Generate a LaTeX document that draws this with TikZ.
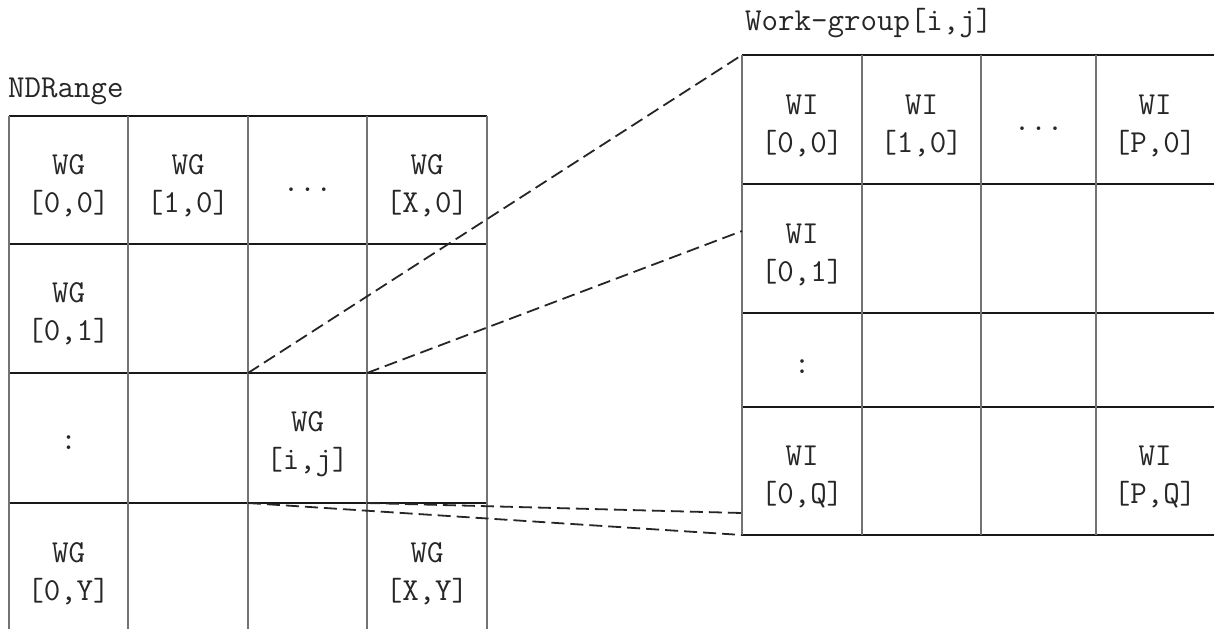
\documentclass[tikz,border=0pt]{standalone}
\newcommand\cellpair[2]{#1\\{#2}}
\begin{document}
\begin{tikzpicture}[x=1pt,y=-1pt,
  hline/.style={line width=1.4pt,black!90},
  vline/.style={line width=1.2pt,black!55},
  link/.style={line width=1.8pt,black!85,dash pattern=on 13pt off 6pt},
  cell/.style={align=center,font=\ttfamily\fontsize{32}{38}\selectfont,text=black!85,inner sep=0pt},
  title/.style={anchor=base west,font=\ttfamily\fontsize{32}{38}\selectfont,text=black!85,inner sep=0pt}]
\useasboundingbox (0,0) rectangle (1214,629);

% ---- NDRange grid (bottom row runs off the page) ----
\foreach \y in {116,244,373,503} \draw[hline] (9,\y) -- (487,\y);
\foreach \x in {9,128,248,367,487} \draw[vline] (\x,116) -- (\x,629);

\node[title] (ndr) at (8,97) {NDRange};

\node[cell] (wg00) at (68.5,186) {\cellpair{WG}{[0,0]}};
\node[cell] (wg10) at (188,186)  {\cellpair{WG}{[1,0]}};
\node[cell] (wgdots) at (307.5,190) {...};
\node[cell] (wgX0) at (427,186)  {\cellpair{WG}{[X,0]}};
\node[cell] (wg01) at (68.5,314) {\cellpair{WG}{[0,1]}};
\node[cell] (wgvdots) at (68.5,443) {:};
\node[cell] (wgij) at (307.5,444) {\cellpair{WG}{[i,j]}};
\node[cell] (wg0Y) at (68.5,574) {\cellpair{WG}{[0,Y]}};
\node[cell] (wgXY) at (427,574)  {\cellpair{WG}{[X,Y]}};

% ---- Work-group grid (right column runs off the page) ----
\foreach \y in {55,184,313,407,535} \draw[hline] (742,\y) -- (1214,\y);
\foreach \x in {742,862,981,1096} \draw[vline] (\x,55) -- (\x,535);

\node[title] (wgt) at (745,30) {Work-group[i,j]};

\node[cell] (wi00) at (802,125.5)  {\cellpair{WI}{[0,0]}};
\node[cell] (wi10) at (921.5,125.5) {\cellpair{WI}{[1,0]}};
\node[cell] (widots) at (1038.5,129) {...};
\node[cell] (wiP0) at (1155,125.5) {\cellpair{WI}{[P,0]}};
\node[cell] (wi01) at (802,254.5)  {\cellpair{WI}{[0,1]}};
\node[cell] (wivdots) at (802,367) {:};
\node[cell] (wi0Q) at (802,477)    {\cellpair{WI}{[0,Q]}};
\node[cell] (wiPQ) at (1155,477)   {\cellpair{WI}{[P,Q]}};

% ---- zoom lines from WG[i,j] to the work-group ----
\coordinate (ijTL) at (248,373);
\coordinate (ijTR) at (367,373);
\coordinate (ijBL) at (248,503);
\coordinate (ijBR) at (367,503);
\coordinate (grpTL) at (742,55);
\coordinate (grpL1) at (742,231);
\coordinate (grpL2) at (742,513);
\coordinate (grpBL) at (742,535);

\draw[link] (ijTL) -- (grpTL);
\draw[link] (ijTR) -- (grpL1);
\draw[link] (ijBR) -- (grpL2);
\draw[link] (ijBL) -- (grpBL);
\end{tikzpicture}
\end{document}
